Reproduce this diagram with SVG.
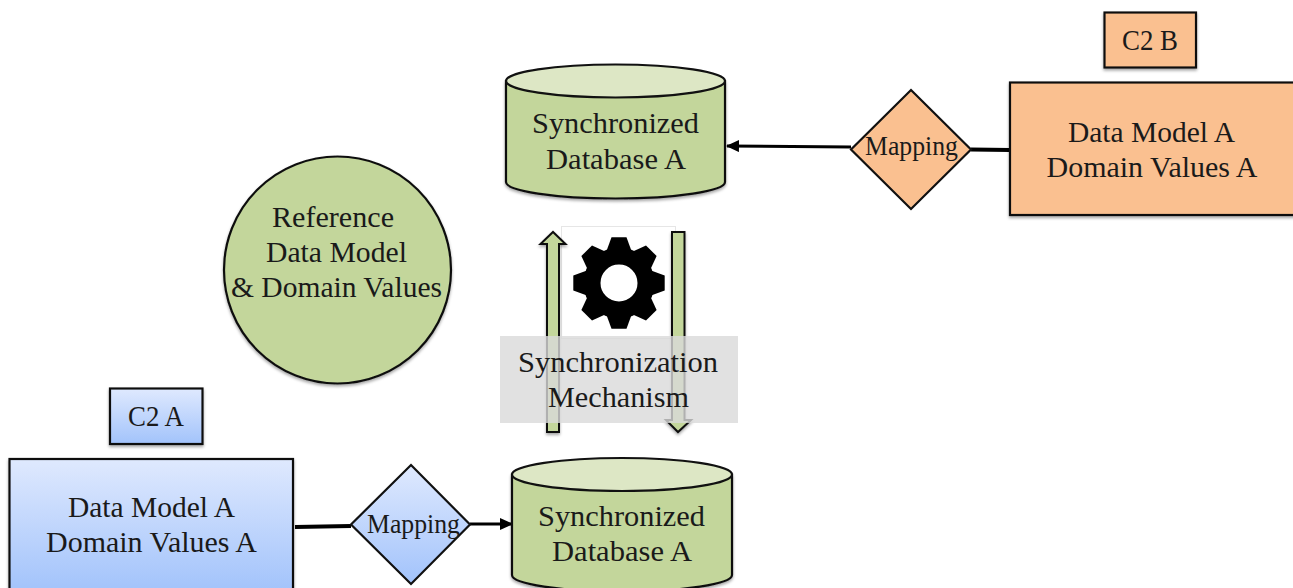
<svg xmlns="http://www.w3.org/2000/svg" xmlns:xlink="http://www.w3.org/1999/xlink" width="1293" height="588" viewBox="0 0 1293 588">
<style>
text{font-family:"Liberation Serif","DejaVu Serif",serif;font-size:30px;fill:#1a1a1a;text-anchor:middle}
.m{font-size:26.500px}
.s{stroke:#111;stroke-width:2.2}
.g{fill:#c3d69b}
.o{fill:#fac090}
.b{fill:url(#blue)}
.a{fill:#c3d69b;stroke:#111;stroke-width:2}
.c{fill:none;stroke:#000;stroke-width:3}
.k{fill:none;stroke:#000;stroke-width:4}
</style>
<defs>
<linearGradient id="blue" x1="0" y1="0" x2="0" y2="1"><stop offset="0" stop-color="#dfe9fe"/><stop offset="1" stop-color="#a2c3fb"/></linearGradient>
<filter id="sh" x="-20%" y="-20%" width="140%" height="140%"><feDropShadow dx="0" dy="2" stdDeviation="1.5" flood-color="#000" flood-opacity=".35"/></filter>
<marker id="ah" markerUnits="userSpaceOnUse" markerWidth="14" markerHeight="12" refX="12" refY="6" orient="auto"><path d="M0 0L13 6L0 12z" fill="#000"/></marker>
<polygon id="t" points="-12.500,-32 -7.500,-45.700 7.500,-45.700 12.500,-32" fill="#000"/>
</defs>
<rect width="1293" height="588" fill="#fff"/>
<g id="connectors">
<path class="k" d="M1010 150L971 149.500"/>
<path class="c" d="M851 147L727 146" marker-end="url(#ah)"/>
<path class="k" d="M295 527L351 526"/>
<path class="c" d="M470 524L512 524" marker-end="url(#ah)"/>
</g>
<g id="reference"><circle class="s g" cx="337.500" cy="270" r="113.500" filter="url(#sh)"/>
<text x="333" y="227" textLength="122" lengthAdjust="spacingAndGlyphs">Reference</text>
<text x="336.500" y="262" textLength="141" lengthAdjust="spacingAndGlyphs">Data Model</text>
<text x="336.500" y="297" textLength="211" lengthAdjust="spacingAndGlyphs">&amp; Domain Values</text></g>
<g id="db-top"><path class="s g" d="M506 81V182C506 191 555 198.500 615.500 198.500S725 191 725 182V81z" filter="url(#sh)"/>
<ellipse class="s" cx="615.500" cy="81" rx="109.500" ry="16.500" fill="#dde7c5"/>
<text x="615.500" y="133" textLength="167" lengthAdjust="spacingAndGlyphs">Synchronized</text>
<text x="616" y="168.500" textLength="140" lengthAdjust="spacingAndGlyphs">Database A</text></g>
<g id="mechanism">
<rect x="561.500" y="226.500" width="114" height="112" fill="#fff" stroke="#e6e6e6"/>
<path class="a" d="M547 432V244H540.500L553 232L565.500 244H559V432z" filter="url(#sh)"/>
<path class="a" d="M672 232H684.500V420H691L678 432L666 420H672z" filter="url(#sh)"/>
<g id="gear" transform="translate(619 283)">
<use href="#t"/><use href="#t" transform="rotate(45)"/><use href="#t" transform="rotate(90)"/><use href="#t" transform="rotate(135)"/><use href="#t" transform="rotate(180)"/><use href="#t" transform="rotate(225)"/><use href="#t" transform="rotate(270)"/><use href="#t" transform="rotate(315)"/>
<circle r="27" fill="none" stroke="#000" stroke-width="17"/>
</g>
<rect x="500" y="336" width="238" height="87" fill="#d9d9d9" fill-opacity=".8"/>
<text x="618" y="372" textLength="200" lengthAdjust="spacingAndGlyphs">Synchronization</text>
<text x="618.500" y="407" textLength="141" lengthAdjust="spacingAndGlyphs">Mechanism</text>
</g>
<g id="c2b-label"><rect class="s o" x="1104.500" y="12.500" width="91.500" height="55" filter="url(#sh)"/><text x="1150" y="50" textLength="56" lengthAdjust="spacingAndGlyphs">C2 B</text></g>
<g id="c2b-model"><rect class="s o" x="1010" y="82.500" width="285" height="132.500" filter="url(#sh)"/>
<text x="1151.500" y="142" textLength="167" lengthAdjust="spacingAndGlyphs">Data Model A</text>
<text x="1152" y="177" textLength="211" lengthAdjust="spacingAndGlyphs">Domain Values A</text></g>
<g id="c2b-mapping"><polygon class="s o" points="911,90 971,149.500 911,209 851,149.500"/><text class="m" x="911.500" y="155" textLength="93" lengthAdjust="spacingAndGlyphs">Mapping</text></g>
<g id="c2a-label"><rect class="s b" x="110" y="388.500" width="92.500" height="55.500" filter="url(#sh)"/><text x="156" y="426" textLength="56" lengthAdjust="spacingAndGlyphs">C2 A</text></g>
<g id="c2a-model"><rect class="s b" x="9.500" y="459" width="283.500" height="133" filter="url(#sh)"/>
<text x="151.500" y="517" textLength="167" lengthAdjust="spacingAndGlyphs">Data Model A</text>
<text x="151.500" y="552" textLength="211" lengthAdjust="spacingAndGlyphs">Domain Values A</text></g>
<g id="c2a-mapping"><polygon class="s b" points="411,465 470,524.500 411,584 351,524.500"/><text class="m" x="413.500" y="533" textLength="93" lengthAdjust="spacingAndGlyphs">Mapping</text></g>
<g id="db-bottom"><path class="s g" d="M512 474.500V575C512 584 561 591.500 622 591.500S732 584 732 575V474.500z" filter="url(#sh)"/>
<ellipse class="s" cx="622" cy="474.500" rx="110" ry="16.500" fill="#dde7c5"/>
<text x="621.500" y="526" textLength="167" lengthAdjust="spacingAndGlyphs">Synchronized</text>
<text x="622" y="561" textLength="140" lengthAdjust="spacingAndGlyphs">Database A</text></g>
</svg>
